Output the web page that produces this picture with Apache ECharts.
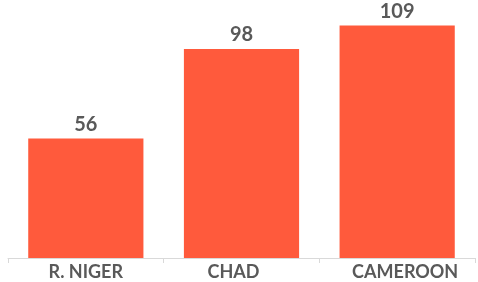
<!DOCTYPE html>
<html>
<head>
<meta charset="utf-8">
<script src="https://cdn.jsdelivr.net/npm/echarts@6/dist/echarts.min.js"></script>
<style>
html, body { margin: 0; padding: 0; background: #fff; }
#main { width: 478px; height: 282px; }
</style>
</head>
<body>
<div id="main"></div>
<script>
var categories = ['R. NIGER', 'CHAD', 'CAMEROON'];
var values = [56, 98, 109];
// horizontal nudge of each category label, as in the original
var labelShift = [0, -8, 8];

var chartDom = document.getElementById('main');
var myChart = echarts.init(chartDom);
var option;
option = {
    animation: false,
    grid: { left: 8, right: 3, top: 2, bottom: 24 },
    xAxis: {
        type: 'category',
        data: categories.map(function (c, i) {
            var s = labelShift[i];
            return {
                value: c,
                textStyle: { padding: [0, s < 0 ? -2 * s : 0, 0, s > 0 ? 2 * s : 0] }
            };
        }),
        axisLine: { lineStyle: { color: '#d9d9d9', width: 1 } },
        axisTick: { show: true, length: 5, lineStyle: { color: '#d9d9d9' } },
        axisLabel: {
            color: '#595959',
            fontFamily: 'Lato',
            fontWeight: 'bold',
            fontSize: 18,
            margin: 5
        }
    },
    yAxis: {
        type: 'value',
        min: 0,
        max: 120,
        show: false,
        splitLine: { show: false }
    },
    series: [{
        type: 'bar',
        data: values,
        barCategoryGap: '26%',
        itemStyle: { color: '#ff5a3c' },
        label: {
            show: true,
            position: 'top',
            distance: 4,
            color: '#595959',
            fontFamily: 'Lato',
            fontWeight: 'bold',
            fontSize: 20
        }
    }]
};
myChart.setOption(option);
</script>
</body>
</html>
